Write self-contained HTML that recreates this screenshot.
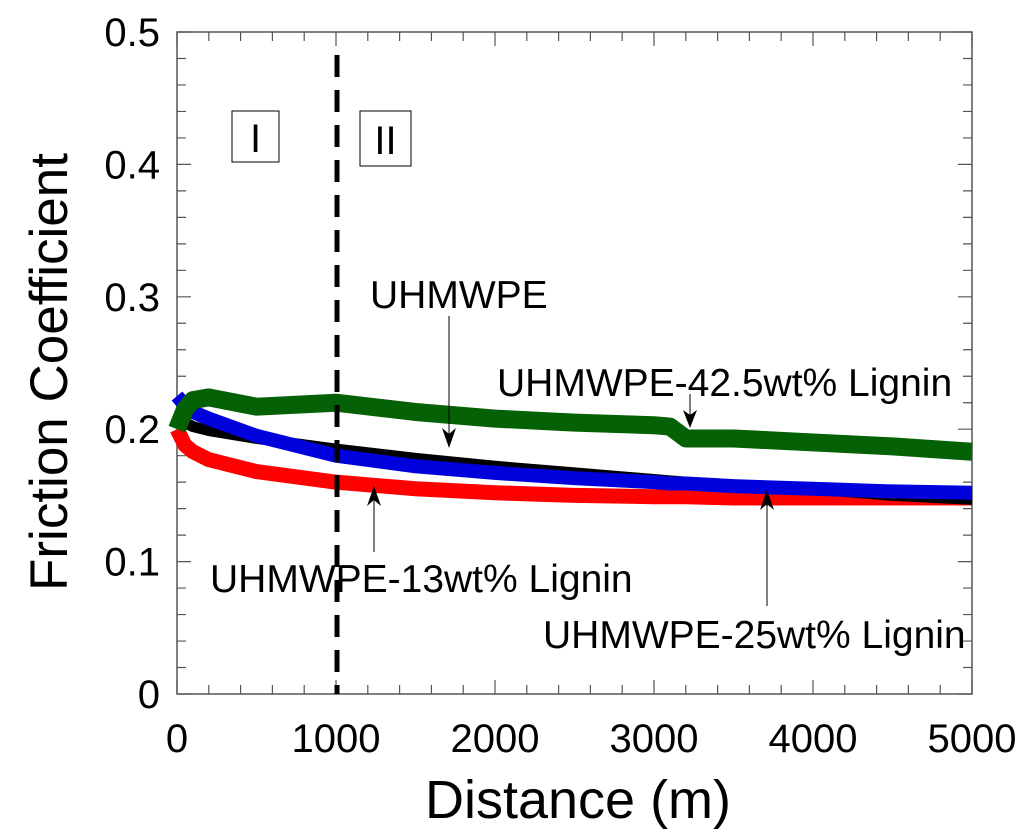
<!DOCTYPE html>
<html><head><meta charset="utf-8"><style>
body{margin:0;background:#fff}
svg{display:block;font-family:"Liberation Sans",Arial,sans-serif}
</style></head><body>
<svg id="chart" width="1024" height="838" viewBox="0 0 1024 838">
<g id="axes"></g>
<g id="series"></g>
<line x1="337" y1="55" x2="337" y2="694" stroke="#000" stroke-width="5" stroke-dasharray="22,13"/>
<rect x="232" y="111" width="47" height="51" fill="none" stroke="#000" stroke-width="1"/>
<text x="255.5" y="152" font-size="40" text-anchor="middle">I</text>
<rect x="360" y="111" width="51" height="55" fill="none" stroke="#000" stroke-width="1"/>
<text x="385.5" y="154" font-size="40" text-anchor="middle">II</text>
<g font-size="39">
<text x="370" y="308">UHMWPE</text>
<line x1="449" y1="316" x2="449" y2="440" stroke="#000" stroke-width="1"/>
<path d="M442,428 L449,448 L456,428 L449,434Z"/>
<text x="497" y="396">UHMWPE-42.5wt% Lignin</text>
<line x1="690" y1="394" x2="690" y2="420" stroke="#000" stroke-width="1"/>
<path d="M683,410 L690,428 L697,410 L690,415Z"/>
<text x="210" y="592">UHMWPE-13wt% Lignin</text>
<line x1="374" y1="552" x2="374" y2="492" stroke="#000" stroke-width="1"/>
<path d="M367,506 L374,486 L381,506 L374,500Z"/>
<text x="543" y="648">UHMWPE-25wt% Lignin</text>
<line x1="767" y1="606" x2="767" y2="496" stroke="#000" stroke-width="1"/>
<path d="M760,510 L767,490 L774,510 L767,504Z"/>
</g>
<text transform="translate(67,372) rotate(-90)" font-size="53" text-anchor="middle">Friction Coefficient</text>
<text x="578" y="818" font-size="54" text-anchor="middle">Distance (m)</text>
</svg>
<script>
const xTicks=[0,1000,2000,3000,4000,5000];
const yTicks=[0,0.1,0.2,0.3,0.4,0.5];
const yTickLabels=["0","0.1","0.2","0.3","0.4","0.5"];
const distances=[0,50,100,200,500,1000,1500,2000,2500,3000,3100,3200,3500,4000,4500,5000];
const uhmwpe=[0.21,0.205,0.202,0.199,0.193,0.185,0.178,0.172,0.167,0.162,0.161,0.160,0.158,0.155,0.150,0.147];
const lignin13=[0.200,0.188,0.183,0.177,0.168,0.160,0.155,0.152,0.150,0.149,0.149,0.149,0.148,0.148,0.148,0.148];
const lignin25=[0.225,0.218,0.213,0.208,0.195,0.180,0.172,0.167,0.163,0.160,0.159,0.159,0.157,0.155,0.153,0.152];
const lignin425=[0.200,0.215,0.222,0.224,0.217,0.220,0.213,0.208,0.205,0.203,0.202,0.193,0.193,0.190,0.187,0.183];
const X0=177,X1=972,Y0=694,Y1=32;
const sx=v=>X0+(v-0)/(5000)*(X1-X0);
const sy=v=>Y0-(v/0.5)*(Y0-Y1);
const NS="http://www.w3.org/2000/svg";
const axes=document.getElementById('axes'),ser=document.getElementById('series');
function mk(tag,attrs,parent){const e=document.createElementNS(NS,tag);for(const k in attrs)e.setAttribute(k,attrs[k]);parent.appendChild(e);return e;}
const fr=mk('rect',{x:X0,y:Y1,width:X1-X0,height:Y0-Y1,fill:'none',stroke:'#555','stroke-width':1.5},axes);


for(let v=0;v<=5000;v+=200){const len=(v%1000===0)?14:9;
 const t=mk('path',{d:`M${sx(v)},${Y0}v${-len}M${sx(v)},${Y1}v${len}`,stroke:'#555','stroke-width':1.2},axes);
 
 }
for(let i=0;i<=25;i++){const v=i*0.02;const len=(i%5===0)?14:9;
 const t=mk('path',{d:`M${X0},${sy(v)}h${len}M${X1},${sy(v)}h${-len}`,stroke:'#555','stroke-width':1.2},axes);
 
 }
xTicks.forEach(v=>{const t=mk('text',{x:sx(v),y:752,'font-size':40,'text-anchor':'middle'},axes);t.textContent=v;
 
 });
yTicks.forEach((v,i)=>{const t=mk('text',{x:160,y:sy(v)+14,'font-size':40,'text-anchor':'end'},axes);t.textContent=yTickLabels[i];
 
 });
function line(vals,color,w,name){
 const d=distances.map((x,i)=>(i?'L':'M')+sx(x)+','+sy(vals[i])).join('');
 const p=mk('path',{d:d,fill:'none',stroke:color,'stroke-width':w,'stroke-linejoin':'round'},ser);
 
 }
line(lignin13,'#ff0000',15,'series-13wt-lignin');
line(uhmwpe,'#000000',11,'series-uhmwpe');
line(lignin25,'#0000dd',14,'series-25wt-lignin');
line(lignin425,'#056105',18,'series-42-5wt-lignin');
</script>
</body></html>
